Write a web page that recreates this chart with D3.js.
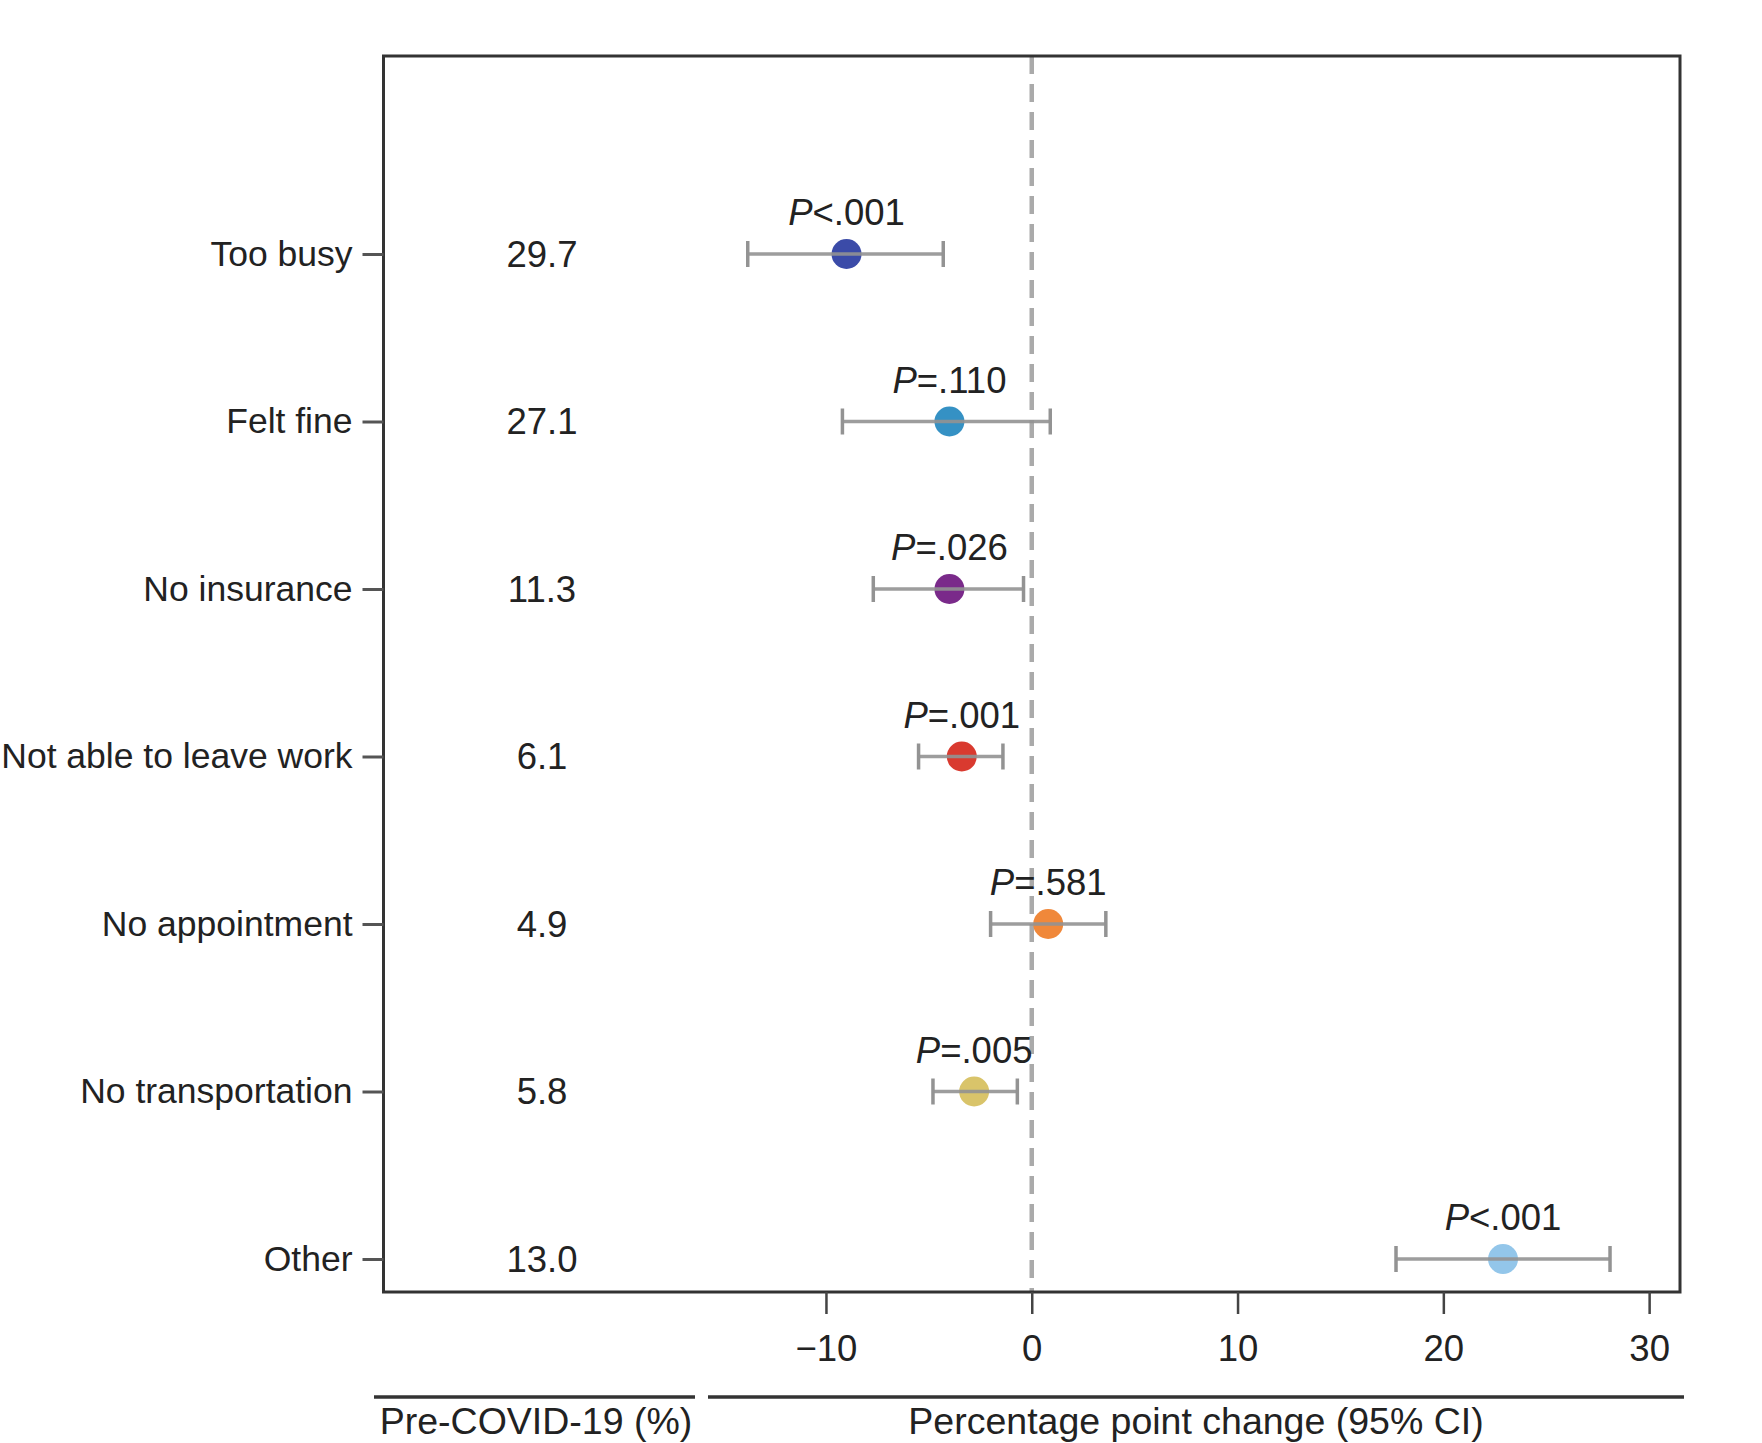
<!DOCTYPE html>
<html><head><meta charset="utf-8">
<script src="https://cdn.jsdelivr.net/npm/d3@7"></script>
<style>body{margin:0;background:#fff}svg{display:block}text{font-family:"Liberation Sans",Arial,sans-serif;fill:#222}</style>
</head><body><svg id="c" width="1762" height="1443"></svg>
<script>
const categories = ["Too busy","Felt fine","No insurance","Not able to leave work","No appointment","No transportation","Other"];
const preCovid = ["29.7","27.1","11.3","6.1","4.9","5.8","13.0"];
const estimate = [-9.0,-4.0,-4.0,-3.4,0.8,-2.8,22.9];
const ciLow = [-13.8,-9.2,-7.7,-5.5,-2.0,-4.8,17.7];
const ciHigh = [-4.3,0.9,-0.4,-1.4,3.6,-0.7,28.1];
const pLabels = [["<",".001"],["=",".110"],["=",".026"],["=",".001"],["=",".581"],["=",".005"],["<",".001"]];
const colors = ["#3b4ba8","#3591c4","#7a2a8a","#d93a2f","#f0883a","#d9c46a","#93c6ea"];
const xTicks = [-10,0,10,20,30];

const svg = d3.select("#c");
const L=383.5,R=1680,T=56,B=1292;
const x = d3.scaleLinear().domain([-31.5,31.5]).range([L,R]);
const y = d3.scalePoint().domain(categories).range([254,1259]);
const fs = 36.5;

// zero line
svg.append("line").attr("x1",x(0)).attr("x2",x(0)).attr("y1",T).attr("y2",B)
  .attr("stroke","#aaa").attr("stroke-width",4.5).attr("stroke-dasharray","18,10");

// frame
svg.append("rect").attr("x",L).attr("y",T).attr("width",R-L).attr("height",B-T)
  .attr("fill","none").attr("stroke","#333").attr("stroke-width",3);

// y axis
const ya = svg.append("g").attr("transform",`translate(${L},0)`).call(d3.axisLeft(y).tickSize(21).tickPadding(10));
ya.select(".domain").remove();
ya.selectAll(".tick line").attr("stroke","#555").attr("stroke-width",3);
ya.selectAll(".tick text").attr("font-size",35.5).attr("fill","#222").attr("font-family","Liberation Sans, Arial, sans-serif");

// x axis
const xa = svg.append("g").attr("transform",`translate(0,${B})`).call(d3.axisBottom(x).tickValues(xTicks).tickSize(22).tickPadding(21).tickFormat(d=>d<0?"\u2212"+Math.abs(d):d));
xa.select(".domain").remove();
xa.selectAll(".tick line").attr("stroke","#444").attr("stroke-width",2.5);
xa.selectAll(".tick text").attr("font-size",fs).attr("fill","#222").attr("font-family","Liberation Sans, Arial, sans-serif");

// pre-covid values
svg.append("g").selectAll("text").data(categories).join("text")
  .attr("x",542).attr("y",d=>y(d)).attr("dy","0.35em").attr("text-anchor","middle")
  .attr("font-size",fs).text((d,i)=>preCovid[i]);

const g = svg.append("g").selectAll("g").data(categories).join("g");
g.append("circle").attr("cx",(d,i)=>x(estimate[i])).attr("cy",d=>y(d)).attr("r",15).attr("fill",(d,i)=>colors[i]);
g.append("line").attr("x1",(d,i)=>x(ciLow[i])).attr("x2",(d,i)=>x(ciHigh[i])).attr("y1",d=>y(d)).attr("y2",d=>y(d))
  .attr("stroke","#939393").attr("stroke-width",3.5).attr("opacity",0.9);
g.append("line").attr("x1",(d,i)=>x(ciLow[i])).attr("x2",(d,i)=>x(ciLow[i])).attr("y1",d=>y(d)-13).attr("y2",d=>y(d)+13)
  .attr("stroke","#939393").attr("stroke-width",3.5);
g.append("line").attr("x1",(d,i)=>x(ciHigh[i])).attr("x2",(d,i)=>x(ciHigh[i])).attr("y1",d=>y(d)-13).attr("y2",d=>y(d)+13)
  .attr("stroke","#939393").attr("stroke-width",3.5);
const pt = g.append("text").attr("x",(d,i)=>x(estimate[i])).attr("y",d=>y(d)-29).attr("text-anchor","middle").attr("font-size",fs);
pt.append("tspan").attr("font-style","italic").text("P");
pt.append("tspan").text((d,i)=>pLabels[i][0]+pLabels[i][1]);

// bottom rules and labels
svg.append("line").attr("x1",374).attr("x2",695).attr("y1",1397).attr("y2",1397).attr("stroke","#333").attr("stroke-width",3.5);
svg.append("line").attr("x1",708).attr("x2",1684).attr("y1",1397).attr("y2",1397).attr("stroke","#333").attr("stroke-width",3.5);
svg.append("text").attr("x",536).attr("y",1434).attr("text-anchor","middle").attr("font-size",37.5).text("Pre-COVID-19 (%)");
svg.append("text").attr("x",1196).attr("y",1434).attr("text-anchor","middle").attr("font-size",37.5).text("Percentage point change (95% CI)");
</script></body></html>
